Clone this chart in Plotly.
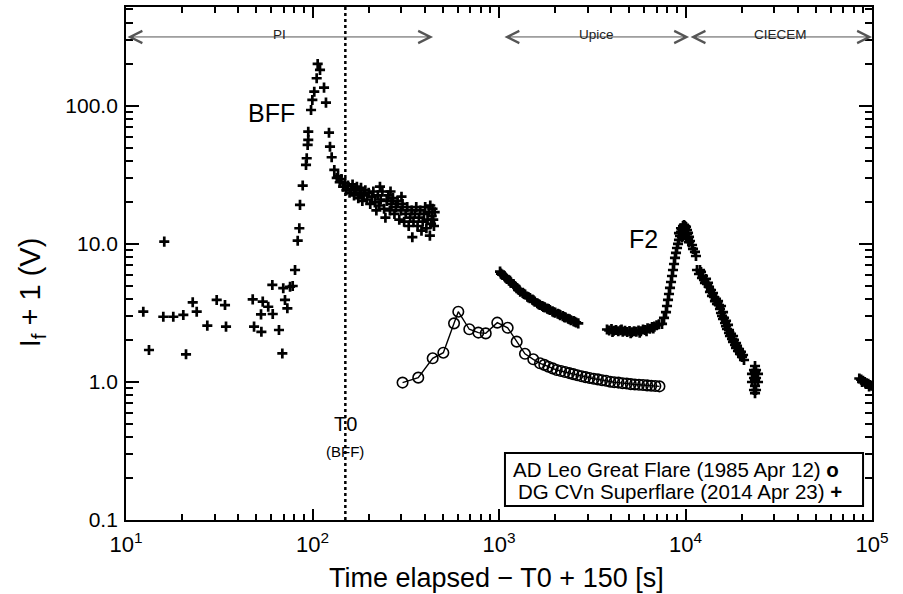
import math
import plotly.graph_objects as go

# ---------------- data ----------------
# AD Leo Great Flare (1985 Apr 12)  (open circles + line)
adleo_t = [304, 369, 441, 503, 574, 605, 693, 775, 849, 979, 1113, 1244, 1378, 1527,
           1659, 1750, 1840, 1940, 2040, 2150, 2260, 2380, 2500, 2630, 2770, 2910,
           3060, 3220, 3390, 3570, 3750, 3950, 4150, 4370, 4600, 4840, 5090, 5350,
           5630, 5920, 6230, 6550, 6890, 7250]
adleo_v = [0.99, 1.075, 1.485, 1.63, 2.66, 3.23, 2.41, 2.28, 2.25, 2.69, 2.47, 1.96,
           1.60, 1.46, 1.366, 1.33, 1.29, 1.255, 1.22, 1.20, 1.18, 1.16, 1.14, 1.12,
           1.10, 1.085, 1.07, 1.055, 1.045, 1.03, 1.02, 1.005, 0.995, 0.99, 0.98,
           0.975, 0.965, 0.96, 0.955, 0.95, 0.945, 0.94, 0.935, 0.93]

# DG CVn Superflare (2014 Apr 23)  (plus markers)
pre_t = [12.38, 13.28, 16.04, 15.85, 17.93, 20.29, 20.98, 22.79, 23.94, 27.29,
         30.64, 33.95, 34.38, 47.8, 48.6, 53.2, 54.1, 52.96, 57.9, 61.2,
         60.9, 66.1, 68.9, 69.7, 71.2, 73.3, 75.8, 78.3, 80.6]
pre_v = [3.23, 1.705, 10.4, 2.97, 2.97, 3.06, 1.587, 3.78, 3.23, 2.56,
         3.93, 3.61, 2.52, 3.97, 2.52, 2.31, 3.82, 3.09, 3.51, 3.11,
         5.05, 2.38, 1.61, 4.78, 3.93, 3.42, 4.90, 4.96, 6.48]

bff_t = [83.3, 84.99, 85.7, 88.6, 92.3, 93.1, 94.2, 94.9, 94.9, 98.2, 99.8, 102.2,
         105.3, 106.6, 109.7, 115.3, 118.1, 122.6, 124.1, 126.7, 130.9, 134.9]
bff_v = [10.56, 13.0, 19.2, 26.5, 37.4, 41.8, 52.2, 56.7, 65.1, 93.5, 110.5, 126.9,
         158.7, 201.5, 182.3, 135.7, 105.7, 64.0, 50.7, 42.5, 34.4, 30.1]

tail_t = [137, 140, 143, 146, 149, 152, 155, 158, 161, 164, 167, 170, 173, 176, 179,
          182, 185, 188, 192, 196, 200, 204, 208, 212, 216, 220, 224, 228, 230, 232,
          237, 242, 246, 250, 255, 260, 262, 265, 270, 275, 280, 286, 292, 298, 300,
          304, 310, 316, 322, 328, 334, 340, 343, 348, 354, 360, 366, 372, 378, 384,
          390, 396, 402, 408, 414, 420, 426, 428, 432, 436, 440, 444, 448, 452]
tail_v = [31, 28, 29.5, 26, 27.5, 24.5, 26.5, 23.5, 25, 27, 22.5, 24.5, 26, 21.5, 23.5,
          25.5, 20.5, 22.5, 24.5, 21, 23.5, 19.5, 22, 24, 20, 17.5, 22.5, 19, 26, 21,
          24, 18, 15.5, 20.5, 22.5, 17.5, 24, 19.5, 21.5, 16.5, 18.5, 20.5, 15, 17.5, 22,
          19.5, 14.5, 16.5, 18.5, 13.5, 15.5, 17.5, 11.2, 14.5, 16.5, 18.5, 13.5, 15.5, 17.5, 12.5,
          14.5, 16.5, 18.5, 13, 15, 17, 11.5, 19, 14, 16, 18, 15, 13.5, 17]

segA_t = [1013, 1025, 1040, 1070, 1085, 1100, 1130, 1145, 1160, 1195, 1210, 1230, 1265,
          1280, 1300, 1340, 1360, 1380, 1420, 1440, 1465, 1510, 1530, 1555, 1605, 1630,
          1655, 1705, 1730, 1760, 1815, 1845, 1875, 1935, 1965, 2000, 2065, 2100, 2130,
          2200, 2240, 2275, 2350, 2390, 2430, 2510, 2550, 2590, 2660]
segA_v = [6.3, 6.1, 6.0, 5.85, 5.7, 5.6, 5.45, 5.4, 5.25, 5.1, 4.95, 4.9, 4.7,
          4.65, 4.5, 4.42, 4.35, 4.3, 4.15, 4.1, 4.05, 3.95, 3.9, 3.82, 3.72, 3.66,
          3.62, 3.55, 3.5, 3.47, 3.40, 3.37, 3.32, 3.25, 3.2, 3.18, 3.12, 3.1, 3.05,
          3.0, 2.95, 2.93, 2.87, 2.85, 2.80, 2.76, 2.73, 2.70, 2.66]

segB_t = [3794, 3900, 4010, 4060, 4120, 4240, 4360, 4480, 4540, 4610, 4740, 4870, 5010,
          5080, 5150, 5300, 5450, 5600, 5680, 5760, 5920, 6090, 6180, 6260, 6440, 6620,
          6720, 6810, 7000, 7200,
          7482, 7670, 7860, 7958, 8058, 8156, 8258, 8362, 8466, 8570, 8678, 8784, 8892,
          9004, 9117, 9229, 9344, 9461, 9577, 9697, 9817, 9938,
          10062, 10186, 10313, 10442, 10570, 10837, 10970, 11240, 11380,
          9229, 9461, 9577, 9697, 9938, 10062, 10186, 10313, 10442]
segB_v = [2.40, 2.36, 2.42, 2.30, 2.35, 2.38, 2.33, 2.37, 2.40, 2.31, 2.35, 2.30, 2.34,
          2.26, 2.29, 2.33, 2.31, 2.36, 2.28, 2.33, 2.40, 2.38, 2.33, 2.45, 2.43, 2.50,
          2.44, 2.52, 2.58, 2.62,
          2.633, 2.91, 3.21, 3.554, 3.93, 4.342, 4.80, 5.30, 5.86, 6.48, 7.16, 7.92, 8.61,
          9.35, 10.0, 10.69, 11.43, 12.22, 12.85, 13.50, 13.73, 13.5,
          13.28, 12.63, 12.02, 11.24, 10.51, 9.83, 9.20, 8.75, 8.18,
          12.0, 13.0, 11.2, 12.4, 12.8, 12.0, 11.8, 10.9, 10.3]

segC_t = [11527, 11815, 12110, 12410, 12565, 12880, 13040, 13370, 13700, 14040, 14210,
          14570, 14940, 15120, 15310, 15500, 15700, 15890, 16290, 16490, 16690, 17110,
          17320, 17760, 17980, 18430, 18660, 19120, 19600, 20090, 20590,
          11960, 12260, 12720, 13200, 13530, 13870, 14390, 14750, 15500, 15890, 16090,
          16490, 16900, 17110, 17540, 17980, 18200, 18660, 18890, 19360, 19840, 20340]
segC_v = [6.48, 6.06, 6.27, 5.86, 5.48, 5.58, 5.13, 4.88, 4.64, 4.415, 4.13,
          3.995, 3.86, 3.61, 3.38, 3.16, 3.01, 2.86, 2.675, 2.54, 2.42, 2.265,
          2.154, 2.05, 1.95, 1.854, 1.764, 1.677, 1.596, 1.518, 1.443,
          6.48, 5.67, 5.22, 5.22, 4.49, 4.20, 3.86, 3.675, 3.554, 3.21, 2.91,
          2.77, 2.59, 2.38, 2.23, 2.154, 2.016, 1.916, 1.824, 1.734, 1.65, 1.569]

segD_t = [23590, 23300, 23880, 22730, 24470, 23300, 23880, 22730, 24470, 23590, 23300,
          23880, 23590, 23590, 23590]
segD_v = [1.306, 1.22, 1.22, 1.143, 1.143, 1.069, 1.069, 1.0, 1.0, 0.936, 0.875,
          0.875, 0.83, 1.18, 1.03]

segE_t = [85500, 87500, 89500, 91500, 93500, 95500, 97500, 99500, 88500, 92500, 96500]
segE_v = [1.06, 1.04, 1.02, 1.0, 0.98, 0.97, 0.95, 0.94, 1.0, 0.97, 0.93]

# observing phases (time spans, s)
phase_names = ["PI", "Upice", "CIECEM"]
phase_start = [10, 1050, 10450]
phase_end = [443, 10450, 100000]

t0_ref = 150  # T0 marker (BFF)

x_ticks = [10, 100, 1000, 10000, 100000]
x_ticktext = ["10<sup>1</sup>", "10<sup>2</sup>", "10<sup>3</sup>", "10<sup>4</sup>", "10<sup>5</sup>"]
y_ticks = [0.1, 1, 10, 100]
y_ticktext = ["0.1", "1.0", "10.0", "100.0"]

# ---------------- figure ----------------
FONT = "Liberation Sans, Arial, Helvetica, sans-serif"
XLOG = (1, 5)        # log10 x limits
YLOG = (-1, 2.717)   # log10 y limits
W, H = 903, 594
ML, MR, MT, MB = 126, 31, 7, 74

fig = go.Figure()

# dotted T0 line
fig.add_trace(go.Scatter(x=[t0_ref, t0_ref], y=[10 ** YLOG[0], 10 ** YLOG[1]], mode="lines",
                         line=dict(color="black", width=2.5, dash="dot"),
                         hoverinfo="skip", showlegend=False))

# DG CVn
cvn_t = pre_t + bff_t + tail_t + segA_t + segB_t + segC_t + segD_t + segE_t
cvn_v = pre_v + bff_v + tail_v + segA_v + segB_v + segC_v + segD_v + segE_v
fig.add_trace(go.Scatter(x=cvn_t, y=cvn_v, mode="markers",
                         marker=dict(symbol="cross-thin", size=7.2, color="black",
                                     line=dict(color="black", width=2.7)),
                         name="DG CVn Superflare (2014 Apr 23)", showlegend=False))

# AD Leo
fig.add_trace(go.Scatter(x=adleo_t, y=adleo_v, mode="lines+markers",
                         line=dict(color="black", width=1.4),
                         marker=dict(symbol="circle-open", size=10.5, color="black",
                                     line=dict(color="black", width=1.6)),
                         name="AD Leo Great Flare (1985 Apr 12)", showlegend=False))

annotations = []
ARROW_Y = 2.5
for name, s, e in zip(phase_names, phase_start, phase_end):
    annotations.append(dict(x=math.log10(e), y=ARROW_Y, ax=math.log10(s), ay=ARROW_Y,
                            xref="x", yref="y", axref="x", ayref="y", text="",
                            showarrow=True, arrowhead=5, startarrowhead=5,
                            arrowside="end+start", arrowsize=2.4, startarrowsize=2.4,
                            arrowwidth=1, arrowcolor="#555555", standoff=0, startstandoff=0))
    annotations.append(dict(x=(math.log10(s) + math.log10(e)) / 2, y=0.965, xref="x", yref="paper",
                            text=name, showarrow=False,
                            font=dict(family=FONT, size=13.5, color="#222222")))

annotations += [
    dict(x=1.7775, y=0.8246, xref="x", yref="paper", text="BFF", showarrow=False,
         font=dict(family=FONT, size=25, color="black")),
    dict(x=3.777, y=0.5478, xref="x", yref="paper", text="F2", showarrow=False,
         font=dict(family=FONT, size=25, color="black")),
    dict(x=math.log10(t0_ref), y=0.1618, xref="x", yref="paper", text="T0", showarrow=False,
         font=dict(family=FONT, size=20, color="black")),
    dict(x=math.log10(t0_ref), y=0.113, xref="x", yref="paper", text="(BFF)", showarrow=False,
         font=dict(family=FONT, size=15, color="black")),
    dict(x=0.958, y=0.0994, xref="paper", yref="paper", xanchor="right", yanchor="middle",
         text="AD Leo Great Flare (1985 Apr 12) <b>o</b>", showarrow=False,
         font=dict(family=FONT, size=20.5, color="black")),
    dict(x=0.962, y=0.0546, xref="paper", yref="paper", xanchor="right", yanchor="middle",
         text="DG CVn Superflare (2014 Apr 23) <b>+</b>", showarrow=False,
         font=dict(family=FONT, size=20.5, color="black")),
    # axis titles
    dict(x=0.497, y=-0.113, xref="paper", yref="paper", xanchor="center", yanchor="middle",
         text="Time elapsed \u2212 T0 + 150 [s]", showarrow=False,
         font=dict(family=FONT, size=27, color="black")),
    dict(x=-0.126, y=0.444, xref="paper", yref="paper", xanchor="center", yanchor="middle",
         text="I<sub>f</sub> + 1 (V)", textangle=-90, showarrow=False,
         font=dict(family=FONT, size=29, color="black")),
]

shapes = [dict(type="rect", xref="paper", yref="paper", x0=0.508, x1=0.988, y0=0.0273, y1=0.1306,
               line=dict(color="black", width=2), fillcolor="white", layer="below")]

fig.update_layout(
    width=W, height=H,
    margin=dict(l=ML, r=MR, t=MT, b=MB, autoexpand=False),
    paper_bgcolor="white", plot_bgcolor="white",
    font=dict(family=FONT, color="black"),
    annotations=annotations, shapes=shapes,
    showlegend=False,
    xaxis=dict(type="log", range=list(XLOG), showgrid=False, zeroline=False, automargin=False,
               showline=True, linecolor="black", linewidth=1.8, mirror="allticks",
               ticks="inside", ticklen=11, tickwidth=1.5, tickcolor="black",
               tickmode="array", tickvals=x_ticks, ticktext=x_ticktext,
               ticklabelstandoff=4,
               minor=dict(ticks="inside", ticklen=6, tickwidth=1.5, tickcolor="black",
                          dtick="D1", showgrid=False),
               tickfont=dict(family=FONT, size=22, color="black")),
    yaxis=dict(type="log", range=list(YLOG), showgrid=False, zeroline=False, automargin=False,
               showline=True, linecolor="black", linewidth=1.8, mirror="allticks",
               ticks="inside", ticklen=13, tickwidth=1.5, tickcolor="black",
               tickmode="array", tickvals=y_ticks, ticktext=y_ticktext,
               ticklabelstandoff=2,
               minor=dict(ticks="inside", ticklen=7, tickwidth=1.5, tickcolor="black",
                          dtick="D1", showgrid=False),
               tickfont=dict(family=FONT, size=21, color="black")),
)

# remove the browser's default 8px page margin so the figure fills the window exactly
fig.write_html("out.html", config={"displayModeBar": False},
               post_script="document.body.style.margin='0';")
